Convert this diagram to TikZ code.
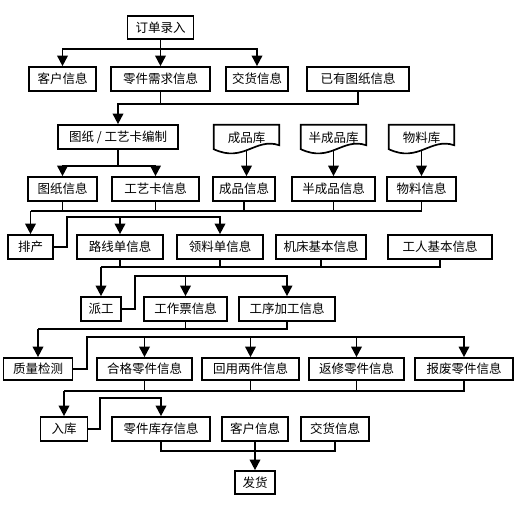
\documentclass[tikz,border=0pt]{standalone}
\usepackage{fontspec}
\setmainfont{Noto Sans CJK SC}
\usetikzlibrary{arrows.meta}
\begin{document}
\begin{tikzpicture}[x=1pt,y=-1pt,
  box/.style={draw, line width=1.7pt, minimum height=24pt, inner sep=0pt, font=\fontsize{12.5}{14}\selectfont},
  docbox/.style={draw=none, minimum width=65pt, minimum height=27pt, inner sep=0pt, font=\fontsize{12.5}{14}\selectfont},
  ln/.style={line width=1.8pt},
  arr/.style={ln, -{Triangle[width=10.5pt,length=10.5pt]}}]
\useasboundingbox (0,0) rectangle (521,504);
\fill[white] (0,0) rectangle (521,504);
% row 0
\node[box, minimum width=66pt, minimum height=23pt] (dd) at (160.5,27.5) {订单录入};
% row 1
\node[box, minimum width=67pt] (kh1) at (62.5,79) {客户信息};
\node[box, minimum width=99pt] (lj) at (160.5,79) {零件需求信息};
\node[box, minimum width=62pt] (jh1) at (257,79) {交货信息};
\node[box, minimum width=102pt] (yy) at (358,79) {已有图纸信息};
% row 2
\node[box, minimum width=120pt] (bz) at (118,137) {图纸 / 工艺卡编制};
\node[docbox] (cpk) at (246.5,138.5) {\raisebox{3pt}{成品库}};
\node[docbox] (bcpk) at (333.5,138.5) {\raisebox{3pt}{半成品库}};
\node[docbox] (wlk) at (421.5,138.5) {\raisebox{3pt}{物料库}};
\foreach \n in {cpk,bcpk,wlk}{
  \draw[line width=1.7pt] (\n.north west) -- (\n.north east) -- ([yshift=7pt]\n.south east)
    .. controls +(-24,-8) and +(30,14) .. ([yshift=3pt]\n.south west) -- cycle;
}
% row 3
\node[box, minimum width=69pt] (tz) at (62.5,189) {图纸信息};
\node[box, minimum width=87pt] (gyk) at (155.5,189) {工艺卡信息};
\node[box, minimum width=62pt] (cp) at (244,189) {成品信息};
\node[box, minimum width=83pt] (bcp) at (333.5,189) {半成品信息};
\node[box, minimum width=69pt] (wl) at (421.5,189) {物料信息};
% row 4
\node[box, minimum width=45pt] (pc) at (30.5,247) {排产};
\node[box, minimum width=86pt] (lx) at (120,247) {路线单信息};
\node[box, minimum width=86pt] (ll) at (220,247) {领料单信息};
\node[box, minimum width=90pt] (jc) at (321,247) {机床基本信息};
\node[box, minimum width=104pt] (gr) at (440,247) {工人基本信息};
% row 5
\node[box, minimum width=40pt] (pg) at (101,309) {派工};
\node[box, minimum width=83pt] (gzp) at (185.5,309) {工作票信息};
\node[box, minimum width=96pt] (gx) at (287,309) {工序加工信息};
% row 6
\node[box, minimum width=69pt, minimum height=22pt] (zl) at (38,369) {质量检测};
\node[box, minimum width=95pt, minimum height=22pt] (hg) at (144.5,369) {合格零件信息};
\node[box, minimum width=97pt, minimum height=22pt] (hy) at (250.5,369) {回用两件信息};
\node[box, minimum width=95pt, minimum height=22pt] (fx) at (356.5,369) {返修零件信息};
\node[box, minimum width=98pt, minimum height=22pt] (bf) at (464,369) {报废零件信息};
% row 7
\node[box, minimum width=47pt] (rk) at (64,429) {入库};
\node[box, minimum width=98pt] (kc) at (161,429) {零件库存信息};
\node[box, minimum width=66pt] (kh2) at (255,429) {客户信息};
\node[box, minimum width=68pt] (jh2) at (335,429) {交货信息};
% row 8
\node[box, minimum width=40pt, minimum height=23pt] (fh) at (255,482.5) {发货};

% connectors level 0 -> 1
\coordinate (j1) at (dd.south |- 0,49);
\draw[ln] (dd.south) -- (j1);
\draw[arr] (j1) -| (kh1.north);
\draw[arr] (j1) -| (jh1.north);
\draw[arr] (j1) -- (lj.north);
% 1 -> 2
\coordinate (j2) at (lj.south |- 0,104);
\draw[ln] (lj.south) -- (j2) -| (yy.south);
\draw[arr] (j2) -| (bz.north);
% 2 -> 3
\coordinate (j3) at (bz.south |- 0,166);
\draw[ln] (bz.south) -- (j3);
\draw[arr] (j3) -| (tz.north);
\draw[arr] (j3) -| (gyk.north);
\draw[arr] ([yshift=1pt]cpk.south) -- (cpk.south |- cp.north);
\draw[arr] ([yshift=1pt]bcpk.south) -- (bcpk.south |- bcp.north);
\draw[arr] ([yshift=1pt]wlk.south) -- (wlk.south |- wl.north);
% 3 -> paichan
\coordinate (j4) at (pc.north |- 0,211);
\draw[arr] (j4) -- (pc.north);
\draw[ln] (j4) -| (wl.south);
\draw[ln] (tz.south) -- (tz.south |- j4);
\draw[ln] (gyk.south) -- (gyk.south |- j4);
\draw[ln] (cp.south) -- (cp.south |- j4);
\draw[ln] (bcp.south) -- (bcp.south |- j4);
% paichan -> luxian, lingliao
\coordinate (k1) at (67,217);
\draw[arr] (pc.east) -| (k1) -| (ll.north);
\draw[arr] (lx.north |- k1) -- (lx.north);
% row 4 -> paigong
\coordinate (j5) at (pg.north |- 0,267);
\draw[arr] (j5) -- (pg.north);
\draw[ln] (j5) -| (gr.south);
\draw[ln] (lx.south) -- (lx.south |- j5);
\draw[ln] (ll.south) -- (ll.south |- j5);
\draw[ln] (jc.south) -- (jc.south |- j5);
% paigong -> gongzuopiao, gongxu
\coordinate (k2) at (135,276);
\draw[arr] (pg.east) -| (k2) -| (gx.north);
\draw[arr] (gzp.north |- k2) -- (gzp.north);
% row 5 -> zhiliang
\coordinate (j6) at (zl.north |- 0,329);
\draw[arr] (j6) -- (zl.north);
\draw[ln] (j6) -| (gx.south);
\draw[ln] (gzp.south) -- (gzp.south |- j6);
% zhiliang -> row 6
\coordinate (k3) at (87,337);
\draw[arr] (zl.east) -| (k3) -| (bf.north);
\draw[arr] (hg.north |- k3) -- (hg.north);
\draw[arr] (hy.north |- k3) -- (hy.north);
\draw[arr] (fx.north |- k3) -- (fx.north);
% row 6 -> ruku
\coordinate (j7) at (rk.north |- 0,391);
\draw[arr] (j7) -- (rk.north);
\draw[ln] (j7) -| (bf.south);
\draw[ln] (hg.south) -- (hg.south |- j7);
\draw[ln] (hy.south) -- (hy.south |- j7);
\draw[ln] (fx.south) -- (fx.south |- j7);
% ruku -> kucun
\coordinate (k4) at (100,398);
\draw[arr] (rk.east) -| (k4) -| (kc.north);
% row 7 -> fahuo
\coordinate (j8) at (kc.south |- 0,451);
\draw[ln] (kc.south) -- (j8) -| (jh2.south);
\draw[ln] (kh2.south) -- (kh2.south |- j8);
\draw[arr] (fh.north |- j8) -- (fh.north);
\end{tikzpicture}
\end{document}
